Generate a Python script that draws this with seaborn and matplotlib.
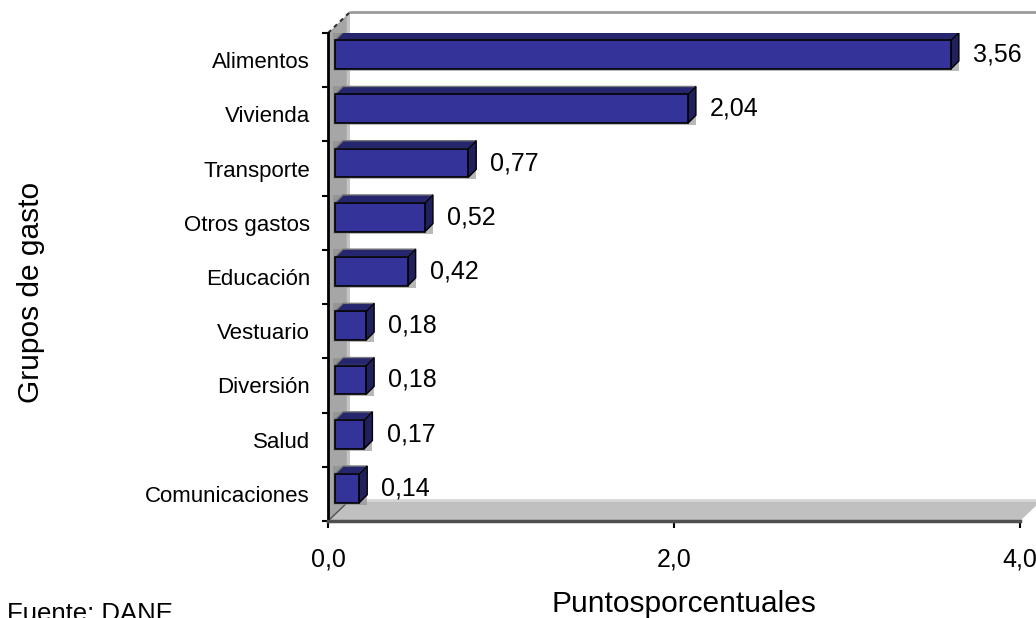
import numpy as np
import seaborn as sns
import matplotlib.pyplot as plt
from matplotlib.patches import Polygon

# data
groups = ['Alimentos', 'Vivienda', 'Transporte', 'Otros gastos', 'Educación',
          'Vestuario', 'Diversión', 'Salud', 'Comunicaciones']
points = [3.56, 2.04, 0.77, 0.52, 0.42, 0.18, 0.18, 0.17, 0.14]
x_ticks = [0.0, 2.0, 4.0]
x_tick_labels = ['0,0', '2,0', '4,0']

sns.set_style('white')
plt.rcParams['font.family'] = ['Liberation Sans', 'DejaVu Sans']
plt.rcParams['text.color'] = 'black'
plt.rcParams['xtick.labelcolor'] = 'black'
plt.rcParams['ytick.labelcolor'] = 'black'

W, H = 1036, 618
fig = plt.figure(figsize=(W / 100, H / 100), dpi=100)
# front plane of the 3D box (pixels x 328..1020, y 33..521)
ax = fig.add_axes([328 / W, (H - 521) / H, 692 / W, 488 / H])

sns.barplot(x=points, y=groups, orient='h', color='#333399', saturation=1,
            width=0.53, ax=ax, zorder=4)
n = len(groups)
ax.set_xlim(0, 4)
ax.set_ylim(n - 0.5, -0.5)
top, bottom = -0.5, n - 0.5

# pixel sizes in data units
px = 4 / 692
py = n / 488

# walls and floor
wdx, wdy = 22 * px, 21 * py
ax.add_patch(Polygon([(0, bottom), (0, top), (wdx, top - wdy), (wdx, bottom - wdy)],
                     closed=True, fc='#a6a6a6', ec='none', zorder=0, clip_on=False))
ax.add_patch(Polygon([(wdx * 0.85, top - wdy * 0.85), (wdx, top - wdy),
                      (wdx, bottom - wdy), (wdx * 0.85, bottom - wdy)],
                     closed=True, fc='#c4c4c4', ec='none', zorder=0.5, clip_on=False))
ax.add_patch(Polygon([(0, bottom), (4, bottom), (4 + wdx, bottom - wdy), (wdx, bottom - wdy)],
                     closed=True, fc='#c0c0c0', ec='none', zorder=1, clip_on=False))
ax.plot([wdx, 4 + wdx], [bottom - wdy] * 2, color='#d6d6d6', lw=2, zorder=1.2, clip_on=False)
ax.plot([wdx, 4 + wdx + 0.1], [top - wdy] * 2, color='#9a9a9a', lw=2, zorder=1, clip_on=False)
ax.plot([0, wdx], [top, top - wdy], color='#303030', lw=1.5, ls=(0, (2, 2)), zorder=1.5, clip_on=False)
ax.plot([0, wdx], [bottom, bottom - wdy], color='#505050', lw=1, zorder=1.5, clip_on=False)

# 3D bars: shift the front faces and add top and side faces
bdx, bdy = 7 * px, 5.5 * py
ddx, ddy = 8 * px, 8 * py
bars = ax.containers[0]
for bar in bars:
    bar.set_x(bar.get_x() + bdx)
    bar.set_y(bar.get_y() - bdy)
    bar.set_edgecolor('black')
    bar.set_linewidth(1.2)
    x0, y0 = bar.get_x(), bar.get_y()
    x1, y1 = x0 + bar.get_width(), y0 + bar.get_height()
    # gray shadow on the left and below
    ax.add_patch(Polygon([(x0 - 2 * px, y0 - ddy), (x0 - 2 * px, y1 + 2 * py),
                          (x1 + ddx, y1 + 2 * py), (x1 + ddx, y0 - ddy)],
                         closed=True, fc='#8a8a8a', ec='none', zorder=2, alpha=0.6))
    ax.add_patch(Polygon([(x0, y0), (x0 + ddx, y0 - ddy), (x1 + ddx, y0 - ddy), (x1, y0)],
                         closed=True, fc='#26266e', ec='#7a7a7a', lw=1, zorder=3))
    ax.add_patch(Polygon([(x1, y0), (x1 + ddx, y0 - ddy), (x1 + ddx, y1 - ddy), (x1, y1)],
                         closed=True, fc='#20205c', ec='black', lw=1, zorder=3))

ax.bar_label(bars, labels=[f'{v:.2f}'.replace('.', ',') for v in points],
             padding=16, fontsize=18, color='black')

# axes, ticks and labels
ax.set_xticks(x_ticks, x_tick_labels)
ax.tick_params(axis='x', bottom=True, length=5, width=1.5, pad=14,
               labelsize=18, color='black', labelcolor='black')
ax.set_yticks(np.arange(n + 1) - 0.5, minor=True)
ax.tick_params(axis='y', which='major', left=False, length=0, pad=13,
               labelsize=16, labelcolor='black')
ax.tick_params(axis='y', which='minor', left=True, length=4.5, width=1.5, color='black')
for side in ['top', 'right']:
    ax.spines[side].set_visible(False)
ax.spines['left'].set_color('black')
ax.spines['left'].set_linewidth(2)
ax.spines['bottom'].set_color('#505050')
ax.spines['bottom'].set_linewidth(2.5)
ax.set_xlabel('')
ax.set_ylabel('')

fig.text(31 / W, 1 - 292 / H, 'Grupos de gasto', rotation=90,
         ha='center', va='center', fontsize=21.5, color='black')
fig.text(684 / W, 1 - 604 / H, 'Puntosporcentuales', ha='center', va='center',
         fontsize=21.5, color='black')
fig.text(7 / W, 1 - 602 / H, 'Fuente: DANE', ha='left', va='top',
         fontsize=18.5, color='black')

fig.savefig('out.png', dpi=100)
